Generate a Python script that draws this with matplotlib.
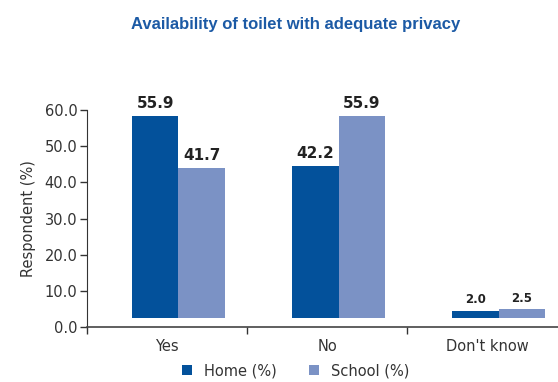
import numpy as np
import matplotlib
matplotlib.use('Agg')
import matplotlib.pyplot as plt

# Antworten und Anteile
categories = ['Yes', 'No', "Don't know"]
home = [55.9, 42.2, 2.0]
school = [41.7, 55.9, 2.5]
yticks = [0, 10, 20, 30, 40, 50, 60]

home_color = '#03519b'
school_color = '#7b92c5'
text_color = '#333333'

plt.rcParams['font.family'] = 'DejaVu Sans'

fig = plt.figure(figsize=(5.58, 3.82), dpi=100)
ax = fig.add_axes([0.156, 0.144, 0.844, 0.568])

x = np.arange(len(categories))
width = 0.29
base = 2.4  # Balken beginnen leicht oberhalb der Achse
shift = 0.07

b1 = ax.bar(x + shift - width / 2, home, width, bottom=base, color=home_color, label='Home (%)')
b2 = ax.bar(x + shift + width / 2, school, width, bottom=base, color=school_color, label='School (%)')

# Werte über den Balken
for bars, vals in [(b1, home), (b2, school)]:
    for rect, v in zip(bars, vals):
        size = 11 if v > 10 else 8.5
        ax.text(rect.get_x() + rect.get_width() / 2, base + v + 1.3, f'{v:.1f}',
                ha='center', va='bottom', fontsize=size, fontweight='bold', color='#222222')

ax.set_xlim(-0.5, 2.44)
ax.set_ylim(0, 60)
ax.set_yticks(yticks)
ax.set_yticklabels([f'{t:.1f}' for t in yticks], fontsize=10.5, color=text_color)

# Striche an den Gruppengrenzen, Beschriftung in der Mitte
ax.set_xticks([-0.5, 0.5, 1.5])
ax.set_xticklabels([])
ax.set_xticks(x, minor=True)
ax.set_xticklabels(categories, minor=True, fontsize=10.5, color=text_color)
ax.tick_params(axis='x', which='major', length=5, width=1, color='#333333', direction='out')
ax.tick_params(axis='x', which='minor', length=0, pad=9)
ax.tick_params(axis='y', length=5, width=1, color='#333333', pad=2)

for s in ['top', 'right']:
    ax.spines[s].set_visible(False)
ax.spines['left'].set_color('#333333')
ax.spines['bottom'].set_color('#444444')
ax.spines['bottom'].set_linewidth(1.2)

ax.set_ylabel('Respondent (%)', fontsize=10.5, color=text_color, labelpad=6)

fig.text(0.529, 0.935, 'Availability of toilet with adequate privacy', ha='center', va='center',
         fontsize=12, fontweight='bold', color='#1c5aa5', family='Liberation Sans')

fig.legend(handles=[b1, b2], loc='center', bbox_to_anchor=(0.53, 0.03), ncol=2, frameon=False,
           fontsize=10.5, handlelength=0.7, handleheight=0.7, columnspacing=2.2, handletextpad=0.8,
           labelcolor=text_color, borderpad=0.2)

fig.savefig('out.png', dpi=100)
